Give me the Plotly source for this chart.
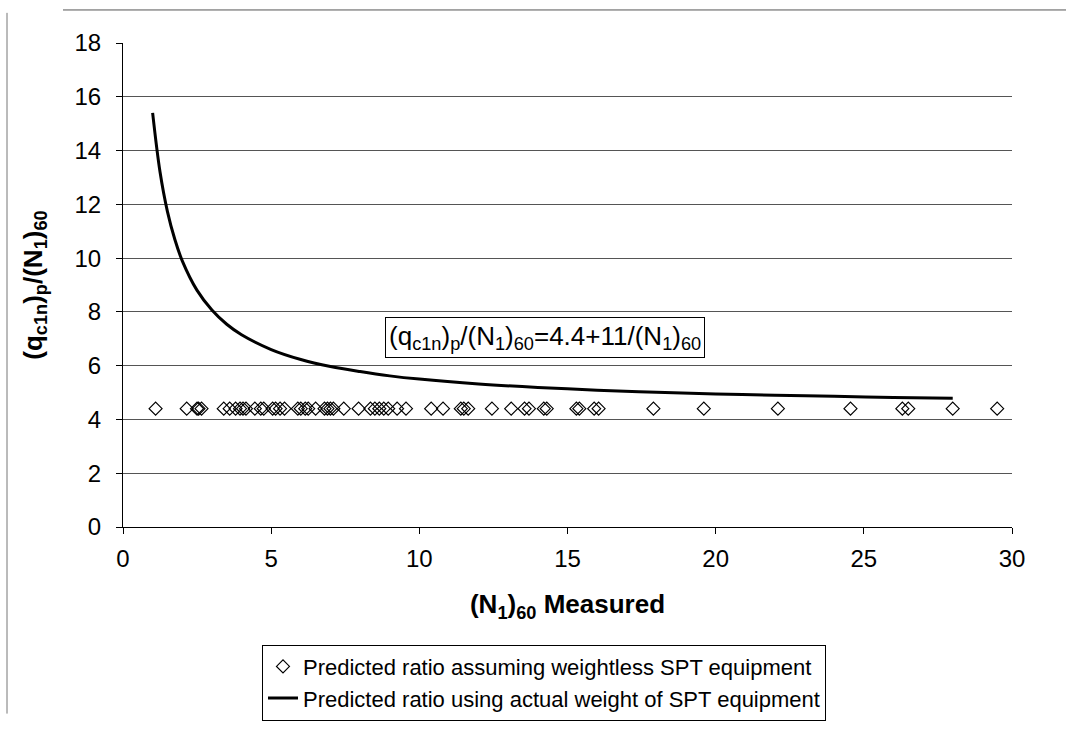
import plotly.graph_objects as go

# ---- data ----
measured_n160 = [1.1, 2.15, 2.5, 2.55, 2.65, 3.4, 3.6, 3.8, 3.95, 4.05, 4.15, 4.45, 4.65, 4.75,
                 5.05, 5.15, 5.3, 5.45, 5.9, 6.0, 6.15, 6.25, 6.5, 6.8, 6.9, 7.0, 7.1, 7.45,
                 7.95, 8.35, 8.5, 8.65, 8.8, 8.95, 9.25, 9.55, 10.4, 10.8, 11.4, 11.5, 11.65,
                 12.45, 13.1, 13.55, 13.7, 14.2, 14.3, 15.3, 15.4, 15.9, 16.05, 17.9, 19.6,
                 22.1, 24.55, 26.3, 26.5, 28.0, 29.5]
ratio_weightless = [4.4] * len(measured_n160)

curve_x = [1, 1.25, 1.5, 1.75, 2, 2.5, 3, 3.5, 4, 5, 6, 7, 8, 9, 10, 12, 14, 16, 18, 20,
           22, 24, 26, 28]
curve_y = [15.40, 13.20, 11.73, 10.69, 9.90, 8.80, 8.07, 7.54, 7.15, 6.60, 6.23, 5.97,
           5.78, 5.62, 5.50, 5.32, 5.19, 5.09, 5.01, 4.95, 4.90, 4.86, 4.82, 4.79]

y_ticks = [0, 2, 4, 6, 8, 10, 12, 14, 16, 18]
x_ticks = [0, 5, 10, 15, 20, 25, 30]

# ---- layout geometry (pixels) ----
W, H = 1066, 733
L, R, T, B = 123, 1012, 43, 541
pw, ph = R - L, B - T


def px(x):
    return (x - L) / pw


def py(y):
    return (B - y) / ph


FONT = "Arial, Liberation Sans, sans-serif"

fig = go.Figure()
fig.add_trace(go.Scatter(
    x=measured_n160, y=ratio_weightless, mode="markers",
    marker=dict(symbol="diamond-open", size=10, color="black", line=dict(width=1.2, color="black")),
    name="Predicted ratio assuming weightless SPT equipment"))
fig.add_trace(go.Scatter(
    x=curve_x, y=curve_y, mode="lines", line=dict(color="black", width=3, shape="spline"),
    name="Predicted ratio using actual weight of SPT equipment"))

fig.update_layout(
    width=W, height=H,
    margin=dict(l=L, r=W - R, t=T, b=H - B),
    paper_bgcolor="white", plot_bgcolor="white",
    font=dict(family=FONT, size=22, color="black"),
    showlegend=True,
    legend=dict(x=px(262), y=py(662), xanchor="left", yanchor="top",
                bordercolor="black", borderwidth=1, bgcolor="white",
                font=dict(size=22), tracegroupgap=0, itemwidth=30),
    annotations=[dict(
        x=8.85, y=7.05, xref="x", yref="y", xanchor="left", yanchor="middle",
        text="(q<sub>c1n</sub>)<sub>p</sub>/(N<sub>1</sub>)<sub>60</sub>=4.4+11/(N<sub>1</sub>)<sub>60</sub>",
        showarrow=False, bordercolor="black", borderwidth=1, bgcolor="white", borderpad=3,
        font=dict(size=26))],
    shapes=[
        dict(type="line", xref="paper", yref="paper", x0=px(63), x1=px(1066), y0=py(9), y1=py(9),
             line=dict(color="#555", width=1)),
        dict(type="line", xref="paper", yref="paper", x0=px(7), x1=px(7), y0=py(12), y1=py(733),
             line=dict(color="#777", width=1)),
    ],
)

fig.update_xaxes(
    range=[0, 30], tickvals=x_ticks, showgrid=False, zeroline=False,
    showline=True, linecolor="black", linewidth=1, ticks="outside", ticklen=6, tickcolor="black",
    tickfont=dict(size=24), ticklabelstandoff=4,
    title=dict(text="<b>(N<sub>1</sub>)<sub>60</sub> Measured</b>", font=dict(size=26), standoff=24))
fig.update_yaxes(
    range=[0, 18], tickvals=y_ticks, showgrid=True, gridcolor="#555", gridwidth=1, zeroline=False,
    showline=True, linecolor="black", linewidth=1, ticks="outside", ticklen=6, tickcolor="black",
    tickfont=dict(size=24), ticklabelstandoff=10,
    title=dict(text="<b>(q<sub>c1n</sub>)<sub>p</sub>/(N<sub>1</sub>)<sub>60</sub></b>", font=dict(size=26), standoff=24))

fig.write_html("out.html")
